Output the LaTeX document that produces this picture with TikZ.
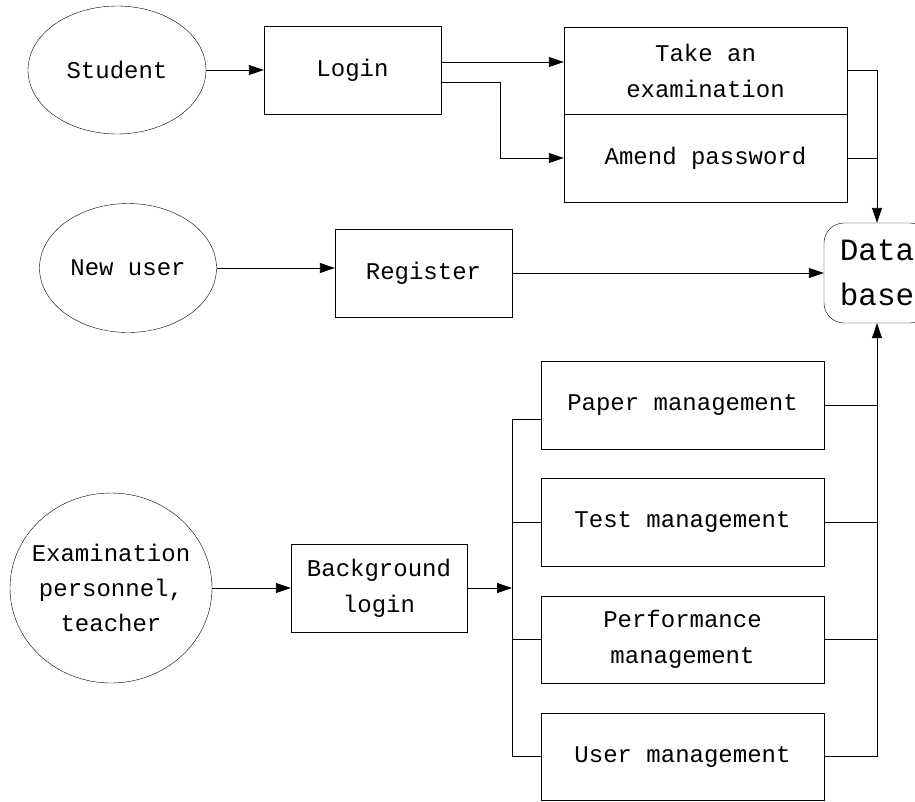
\documentclass[tikz,border=0pt]{standalone}
\usepackage{fontspec}
\setmainfont{Liberation Mono}
\usetikzlibrary{arrows.meta, positioning, shapes.geometric}

\begin{document}
\begin{tikzpicture}[
        x=1pt, y=-1pt,
        >={Triangle[length=15pt, width=10pt]},
        actor/.style={ellipse, draw, inner sep=0pt, font=\fontsize{24}{36}\selectfont, align=center},
        box/.style={rectangle, draw, inner sep=0pt, minimum width=283pt, minimum height=88pt,
            font=\fontsize{24}{36}\selectfont, align=center},
        e/.style={->, line width=0.9pt},
        l/.style={line width=0.9pt}
    ]
        \useasboundingbox (0,0) rectangle (915,801);

        % student part
        \node[actor, minimum width=178pt, minimum height=128pt] (student) at (117,70) {Student};
        \node[box, minimum width=177pt] (login) at (352.5,70) {Login};
        \node[box, minimum height=87pt] (take) at (705.5,70.5) {Take an\\examination};
        \node[box] (amend) at (705.5,158) {Amend password};

        % new user part
        \node[actor, minimum width=177pt, minimum height=129pt] (newuser) at (128,268) {New user};
        \node[box, minimum width=177pt] (register) at (423.5,273) {Register};
        \node[box, rounded corners=20pt, minimum width=106pt, minimum height=100pt,
            font=\fontsize{31}{45}\selectfont] (db) at (877,273) {Data\\base};

        % teacher part
        \node[actor, minimum width=202pt, minimum height=190pt,
            label={[align=center, font=\fontsize{24}{35}\selectfont]center:Examination\\personnel,\\teacher}] (exam) at (111,588) {};
        \node[box, minimum width=176pt] (bglogin) at (379,588) {Background\\login};
        \coordinate (fork) at (512,588);
        \node[box] (paper) at (682.5,405) {Paper management};
        \node[box] (test)  at (682.5,522) {Test management};
        \node[box, minimum height=87pt] (perf) at (682.5,639.5) {Performance\\management};
        \node[box, minimum height=87pt] (user) at (682.5,756.5) {User management};

        \draw[e] (student) -- (login);
        \draw[e] ([yshift=8pt]login.east) -- ([yshift=8pt]login.east -| take.west);
        \draw[e] ([yshift=-12pt]login.east) -- ++(59,0) |- (amend.west);
        \draw[e] (take.east) -| (db.north);
        \draw[l] (amend.east) -- (amend.east -| db.north);

        \draw[e] (newuser) -- (newuser -| register.west);
        \draw[e] (register.east) -- (db.west);

        \draw[e] (exam) -- (bglogin);
        \draw[e] (bglogin) -- (fork);
        \draw[l] ([yshift=-14pt]paper.west) -| (user.west -| fork) -- (user.west);
        \foreach \n in {test, perf}
            \draw[l] (\n.west) -- (\n.west -| fork);
        \draw[e] (user.east) -| (db.south);
        \foreach \n in {paper, test, perf}
            \draw[l] (\n.east) -- (\n.east -| db.south);
\end{tikzpicture}
\end{document}
